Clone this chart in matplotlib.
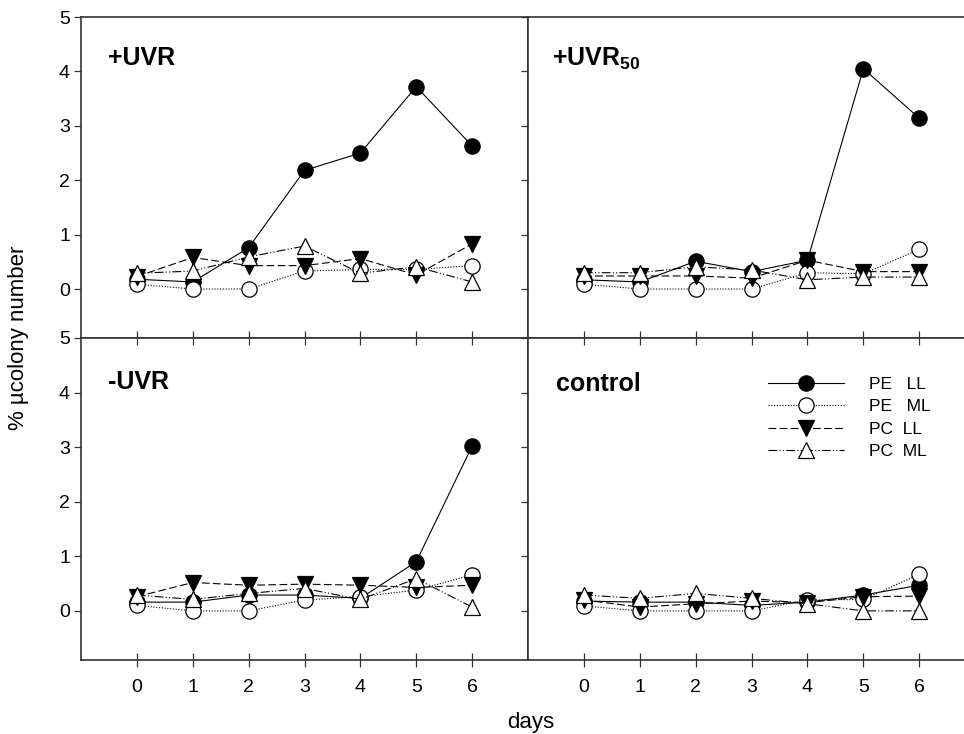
import matplotlib
matplotlib.use("Agg")
import matplotlib.pyplot as plt

plt.rcParams['font.family'] = ['Liberation Sans', 'DejaVu Sans']
plt.rcParams['mathtext.fontset'] = 'custom'
plt.rcParams['mathtext.rm'] = 'Liberation Sans'
plt.rcParams['mathtext.bf'] = 'Liberation Sans:bold'

days = [0, 1, 2, 3, 4, 5, 6]
series_labels = ["PE   LL", "PE   ML", "PC  LL", "PC  ML"]

# +UVR
uvr_pe_ll = [0.18, 0.13, 0.76, 2.18, 2.50, 3.72, 2.63]
uvr_pe_ml = [0.09, 0.00, 0.00, 0.33, 0.36, 0.36, 0.43]
uvr_pc_ll = [0.23, 0.58, 0.43, 0.43, 0.56, 0.26, 0.83]
uvr_pc_ml = [0.29, 0.33, 0.59, 0.79, 0.29, 0.41, 0.13]

# +UVR50
uvr50_pe_ll = [0.17, 0.13, 0.51, 0.32, 0.53, 4.05, 3.14]
uvr50_pe_ml = [0.09, 0.00, 0.00, 0.00, 0.30, 0.28, 0.73]
uvr50_pc_ll = [0.24, 0.24, 0.24, 0.20, 0.53, 0.32, 0.32]
uvr50_pc_ml = [0.30, 0.30, 0.41, 0.35, 0.17, 0.22, 0.22]

# -UVR
nouvr_pe_ll = [0.16, 0.16, 0.29, 0.29, 0.23, 0.90, 3.02]
nouvr_pe_ml = [0.10, 0.00, 0.00, 0.20, 0.26, 0.38, 0.66]
nouvr_pc_ll = [0.26, 0.52, 0.47, 0.49, 0.47, 0.43, 0.47]
nouvr_pc_ml = [0.29, 0.21, 0.32, 0.41, 0.21, 0.59, 0.07]

# control
ctrl_pe_ll = [0.18, 0.16, 0.16, 0.10, 0.16, 0.29, 0.47]
ctrl_pe_ml = [0.09, 0.00, 0.00, 0.00, 0.20, 0.21, 0.67]
ctrl_pc_ll = [0.20, 0.07, 0.13, 0.18, 0.15, 0.26, 0.27]
ctrl_pc_ml = [0.29, 0.23, 0.32, 0.23, 0.13, 0.00, 0.00]

styles = [
    dict(ls='-', marker='o', mfc='black'),
    dict(ls=(0, (1, 1.5)), marker='o', mfc='white'),
    dict(ls=(0, (7, 3)), marker='v', mfc='black'),
    dict(ls=(0, (8, 2, 1, 2, 1, 2)), marker='^', mfc='white'),
]

fig = plt.figure(figsize=(9.64, 7.34), dpi=100)
lw_l, lw_w = 81 / 964, 447 / 964
rw_l, rw_w = 528 / 964, 436 / 964
top_b, top_h = 1 - 338 / 734, 321 / 734
bot_b, bot_h = 1 - 660 / 734, 322 / 734

panels = [
    ([lw_l, top_b, lw_w, top_h], "+UVR", [uvr_pe_ll, uvr_pe_ml, uvr_pc_ll, uvr_pc_ml], 'tl'),
    ([rw_l, top_b, rw_w, top_h], r"+UVR$_{\mathbf{50}}$", [uvr50_pe_ll, uvr50_pe_ml, uvr50_pc_ll, uvr50_pc_ml], 'tr'),
    ([lw_l, bot_b, lw_w, bot_h], "-UVR", [nouvr_pe_ll, nouvr_pe_ml, nouvr_pc_ll, nouvr_pc_ml], 'bl'),
    ([rw_l, bot_b, rw_w, bot_h], "control", [ctrl_pe_ll, ctrl_pe_ml, ctrl_pc_ll, ctrl_pc_ml], 'br'),
]

spine_col = '#333333'
for rect, title, data, pos in panels:
    ax = fig.add_axes(rect)
    for vals, st, lab in zip(data, styles, series_labels):
        ax.plot(days, vals, color='black', lw=0.8, ls=st['ls'], marker=st['marker'],
                ms=11, mfc=st['mfc'], mec='black', mew=0.9, label=lab, clip_on=False)
    ax.set_xlim(-1, 7 if pos[1] == 'l' else 6.8)
    ax.set_ylim(-0.9, 5)
    ax.set_yticks([0, 1, 2, 3, 4, 5])
    for s in ax.spines.values():
        s.set_color(spine_col)
        s.set_linewidth(1.2)
    if pos[1] == 'r':
        ax.spines['right'].set_visible(False)
        ax.tick_params(axis='y', labelleft=False)
    ax.tick_params(axis='y', direction='out', length=5, width=0.9, color=spine_col,
                   labelsize=14, pad=3)
    ax.set_xticks(days)
    if pos[0] == 't':
        ax.tick_params(axis='x', bottom=False, labelbottom=False)
    else:
        ax.tick_params(axis='x', direction='inout', length=10, width=0.9, color=spine_col,
                       top=True, labelsize=14, pad=9)
    if pos[1] == 'l':
        ax.text(-0.52, 4.12 if pos[0] == 't' else 4.06, title, fontsize=18,
                fontweight='bold', va='baseline')
    else:
        ax.text(-0.57 if pos[0] == 't' else -0.5, 4.1 if pos[0] == 't' else 4.02,
                title, fontsize=18, fontweight='bold', va='baseline')
    if title == "control":
        ax.legend(frameon=False, fontsize=12.5, handlelength=4.4, handletextpad=1.45,
                  labelspacing=0.42, loc='upper left', bbox_to_anchor=(0.55, 0.88),
                  borderpad=0, borderaxespad=0)

fig.text(0.019, 0.54, "% \u00b5colony number", rotation=90, fontsize=16,
         ha='center', va='center')
fig.text(0.551, 0.016, "days", fontsize=16, ha='center', va='center')

fig.savefig("out.png", dpi=100)
